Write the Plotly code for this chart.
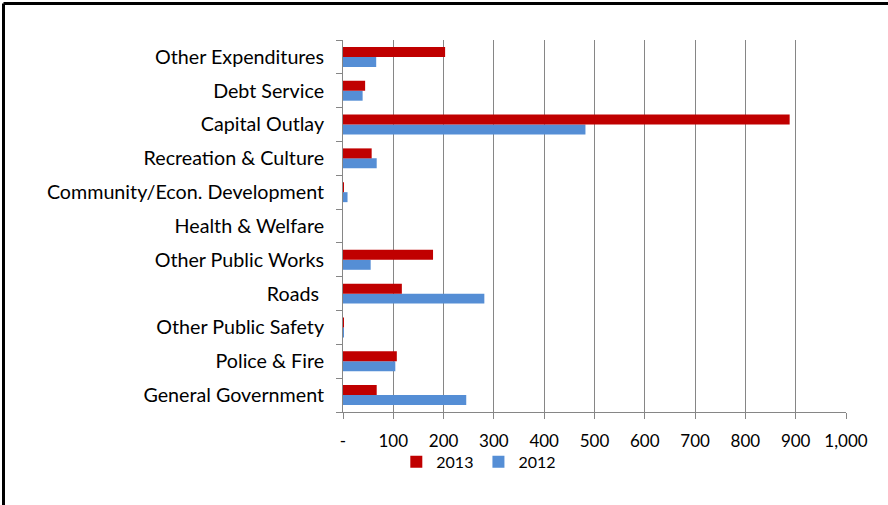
import plotly.graph_objects as go

categories = ["General Government", "Police & Fire", "Other Public Safety", "Roads ",
              "Other Public Works", "Health & Welfare", "Community/Econ. Development",
              "Recreation & Culture", "Capital Outlay", "Debt Service", "Other Expenditures"]
values_2013 = [67, 107, 1, 117, 179, 0, 1, 57, 888, 44, 203]
values_2012 = [245, 104, 1, 281, 55, 0, 9, 67, 482, 39, 66]
tick_vals = [0, 100, 200, 300, 400, 500, 600, 700, 800, 900, 1000]
tick_text = ["-", "100", "200", "300", "400", "500", "600", "700", "800", "900", "1,000"]

W, H = 888, 505
L, R, T, B = 343, 42, 40, 93
pw, ph = W - L - R, H - T - B

fig = go.Figure()
fig.add_trace(go.Bar(y=categories, x=values_2012, name="2012", orientation="h",
                     marker=dict(color="#558ED5", line=dict(width=0))))
fig.add_trace(go.Bar(y=categories, x=values_2013, name="2013", orientation="h",
                     marker=dict(color="#C00000", line=dict(width=0))))

font = "Lato, 'Open Sans', sans-serif"
fig.update_layout(
    width=W, height=H,
    margin=dict(l=L, r=R, t=T, b=B, pad=0),
    paper_bgcolor="white", plot_bgcolor="white",
    barmode="group", bargap=0.41, bargroupgap=0,
    font=dict(family=font, size=17, color="#000000"),
    showlegend=True,
    legend=dict(orientation="h", x=0.27, xanchor="center", y=-0.134, yanchor="middle",
                traceorder="reversed", font=dict(size=16), itemwidth=30,
                bgcolor="rgba(0,0,0,0)"),
    xaxis=dict(range=[0, 1000], tickvals=tick_vals, ticktext=tick_text,
               showgrid=True, gridcolor="#868686", gridwidth=1,
               showline=True, linecolor="#868686", linewidth=1,
               ticks="outside", ticklen=6, tickcolor="#868686",
               ticklabelstandoff=8,
               zeroline=False, tickfont=dict(size=17), fixedrange=True),
    yaxis=dict(type="category", showgrid=False, showline=True, linecolor="#868686",
               linewidth=1, ticks="outside", ticklen=6, tickcolor="#868686",
               tickson="boundaries", tickfont=dict(size=19.7), ticklabelstandoff=14,
               fixedrange=True),
)

# black frame (top and left edges visible in reference)
x_left = (3.5 - L) / pw
y_top = 1 + (T - 3.5) / ph
fig.add_shape(type="line", xref="paper", yref="paper", x0=x_left, x1=2, y0=y_top, y1=y_top,
              line=dict(color="black", width=3))
fig.add_shape(type="line", xref="paper", yref="paper", x0=x_left, x1=x_left, y0=y_top, y1=-1,
              line=dict(color="black", width=3))

fig.write_html("out.html", config={"displayModeBar": False},
               post_script="document.body.style.margin='0';document.body.style.overflow='hidden';")
